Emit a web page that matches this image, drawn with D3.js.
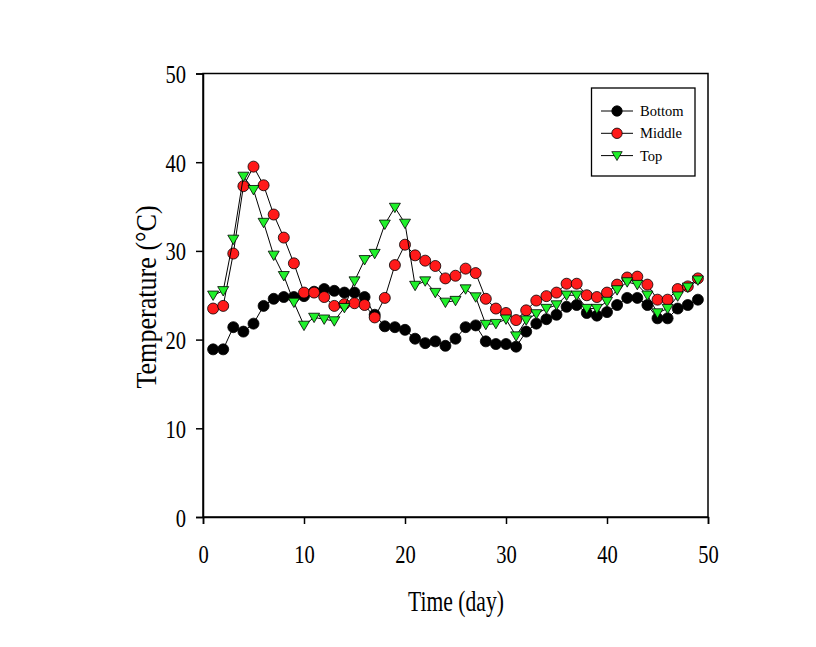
<!DOCTYPE html>
<html>
<head>
<meta charset="utf-8">
<script src="https://cdn.jsdelivr.net/npm/d3@7"></script>
<style>
  html, body { margin: 0; padding: 0; background: #fff; }
  svg { display: block; }
  text { font-family: "Liberation Serif", "Times New Roman", serif; fill: #000; }
</style>
</head>
<body>
<svg id="chart" width="816" height="647"></svg>
<script>
const days = d3.range(1, 50);
const bottom = [18.9,18.9,21.4,20.9,21.8,23.8,24.6,24.8,24.8,24.9,25.4,25.7,25.5,25.3,25.3,24.8,22.8,21.5,21.4,21.1,
  20.1,19.6,19.8,19.3,20.1,21.4,21.6,19.8,19.5,19.5,19.2,20.9,21.8,22.3,22.8,23.7,23.9,23.0,22.7,23.1,
  23.9,24.7,24.7,23.9,22.4,22.4,23.5,23.9,24.5];
const middle = [23.5,23.8,29.7,37.3,39.5,37.4,34.1,31.5,28.6,25.3,25.3,24.8,23.8,24.0,24.1,23.9,22.5,24.7,28.4,30.7,
  29.5,28.9,28.3,26.9,27.2,28.0,27.5,24.6,23.5,23.0,22.2,23.3,24.4,24.9,25.3,26.3,26.3,25.0,24.8,25.3,
  26.2,27.0,27.1,26.2,24.5,24.5,25.7,26.0,26.9];
const top_ = [25.0,25.5,31.3,38.4,36.9,33.2,29.5,27.2,24.2,21.6,22.5,22.3,22.1,23.6,26.6,29.0,29.7,33.0,34.9,33.1,
  26.1,26.6,25.3,24.2,24.4,25.7,24.8,21.7,21.8,22.3,20.4,22.2,22.9,23.5,23.9,25.0,25.0,23.5,23.5,24.3,
  25.6,26.5,26.2,25.0,23.0,23.5,24.9,25.9,26.7];
const seriesNames = ["Bottom", "Middle", "Top"];
const xTicks = [0, 10, 20, 30, 40, 50];
const yTicks = [0, 10, 20, 30, 40, 50];

const series = [
  { name: seriesNames[0], values: bottom, shape: "circle", fill: "#000000" },
  { name: seriesNames[1], values: middle, shape: "circle", fill: "#ff1a1a" },
  { name: seriesNames[2], values: top_, shape: "tri", fill: "#1ff02a" }
];

const svg = d3.select("#chart");
const x = d3.scaleLinear().domain([0, 50]).range([203, 708]);
const y = d3.scaleLinear().domain([0, 50]).range([517, 73.5]);

// frame
svg.append("rect")
  .attr("x", x(0)).attr("y", y(50))
  .attr("width", x(50) - x(0)).attr("height", y(0) - y(50))
  .attr("fill", "none").attr("stroke", "#000").attr("stroke-width", 1.5);

const SX = 0.79; // condensed look of the reference lettering

// axes
const xAxis = svg.append("g").attr("transform", `translate(0,${y(0)})`)
  .call(d3.axisBottom(x).tickValues(xTicks).tickSize(7).tickFormat(d3.format("d")));
const yAxis = svg.append("g").attr("transform", `translate(${x(0)},0)`)
  .call(d3.axisLeft(y).tickValues(yTicks).tickSize(7).tickFormat(d3.format("d")));
[xAxis, yAxis].forEach(a => {
  a.select(".domain").attr("stroke", "#000").attr("stroke-width", 1.5);
  a.selectAll(".tick line").attr("stroke", "#000").attr("stroke-width", 1.5);
  a.selectAll(".tick text").style("font-family", "'Liberation Serif', serif").style("font-size", "26px")
    .attr("fill", "#000");
});
xAxis.selectAll(".tick text").attr("x", 0).attr("y", 46).attr("dy", null)
  .attr("transform", `scale(${SX},1)`);
yAxis.selectAll(".tick text").attr("x", -17 / SX).attr("y", 9).attr("dy", null)
  .attr("transform", `scale(${SX},1)`);

// labels
svg.append("text").attr("transform", `translate(456,611) scale(0.72,1)`).attr("text-anchor", "middle")
  .style("font-size", "30px").text("Time (day)");
svg.append("text").attr("transform", "translate(156,297) rotate(-90) scale(0.87,1)").attr("text-anchor", "middle")
  .style("font-size", "30px").text("Temperature (°C)");

const triPath = "M-5.5,-4.2L5.5,-4.2L0,5.2Z";

function drawMarker(g, s, cx, cy, r) {
  r = r || 5.5;
  if (s.shape === "circle") {
    g.append("circle").attr("cx", cx).attr("cy", cy).attr("r", r)
      .attr("fill", s.fill).attr("stroke", "#000").attr("stroke-width", 0.8);
  } else {
    g.append("path").attr("d", triPath).attr("transform", `translate(${cx},${cy}) scale(${r / 5.5})`)
      .attr("fill", s.fill).attr("stroke", "#000").attr("stroke-width", 0.8);
  }
}

const line = d3.line().x((d, i) => x(days[i])).y(d => y(d));
series.forEach(s => {
  const g = svg.append("g");
  g.append("path").datum(s.values).attr("d", line)
    .attr("fill", "none").attr("stroke", "#000").attr("stroke-width", 1);
  s.values.forEach((v, i) => drawMarker(g, s, x(days[i]), y(v)));
});

// legend
const lg = svg.append("g");
lg.append("rect").attr("x", 591.5).attr("y", 88).attr("width", 103.5).attr("height", 88)
  .attr("fill", "#fff").attr("stroke", "#000").attr("stroke-width", 1.3);
series.forEach((s, i) => {
  const yy = 111 + i * 22.3;
  lg.append("line").attr("x1", 601).attr("x2", 633).attr("y1", yy).attr("y2", yy)
    .attr("stroke", "#000").attr("stroke-width", 1);
  drawMarker(lg, s, 617, yy, 5.2);
  lg.append("text").attr("x", 640).attr("y", yy + 5).style("font-size", "14.5px").text(s.name);
});
</script>
</body>
</html>
